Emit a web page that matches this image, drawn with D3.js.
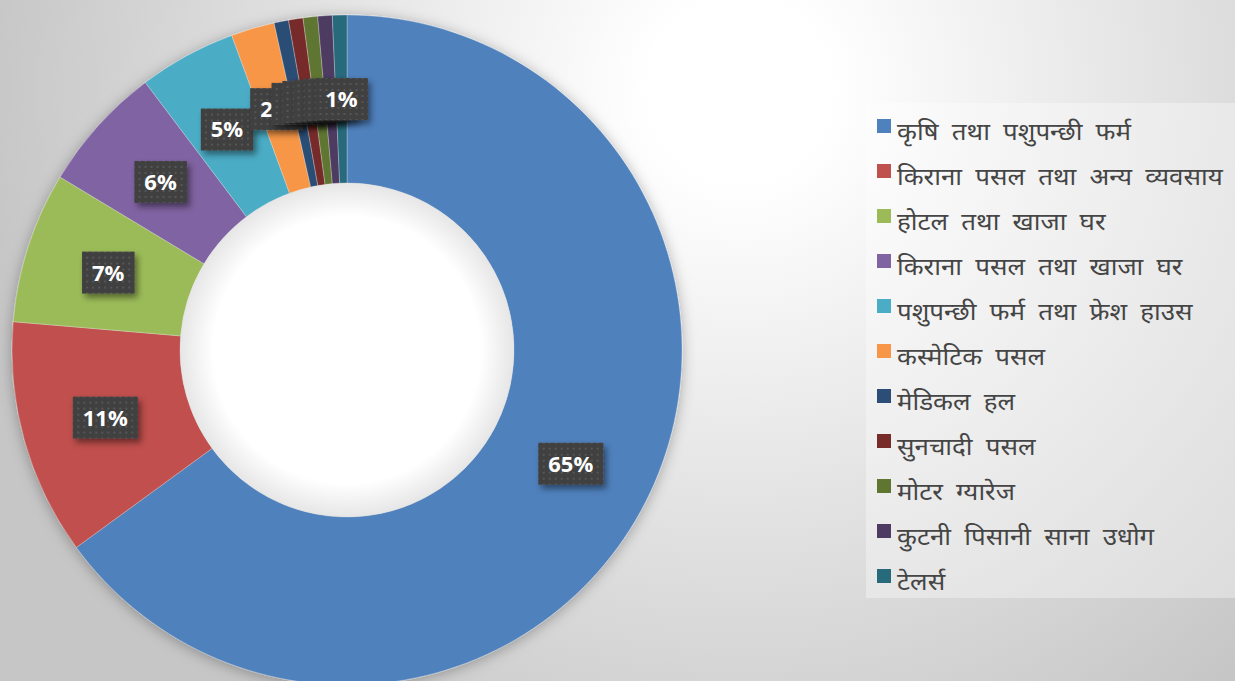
<!DOCTYPE html>
<html>
<head>
<meta charset="utf-8">
<script src="https://cdn.jsdelivr.net/npm/d3@7"></script>
<style>
  html, body { margin: 0; padding: 0; overflow: hidden; }
  body { width: 1235px; height: 681px; }
  .lbl { font-family: "Open Sans", "Noto Sans", sans-serif; font-weight: bold; font-size: 22px; fill: #fff; }
  .legendText { font-family: "Noto Sans Devanagari", "Lohit Devanagari", "Noto Sans", sans-serif; font-size: 24px; word-spacing: 6px; fill: #454545; }
</style>
</head>
<body>
<div id="chart"></div>
<script>
var categories = ["कृषि तथा पशुपन्छी फर्म", "किराना पसल तथा अन्य व्यवसाय", "होटल तथा खाजा घर",
  "किराना पसल तथा खाजा घर", "पशुपन्छी फर्म तथा फ्रेश हाउस", "कस्मेटिक पसल", "मेडिकल हल",
  "सुनचादी पसल", "मोटर ग्यारेज", "कुटनी पिसानी साना उधोग", "टेलर्स"];
var values = [65.1, 11.4, 7.3, 6.1, 4.7, 2.1, 0.7, 0.7, 0.7, 0.7, 0.7];
var labels = ["65%", "11%", "7%", "6%", "5%", "2%", "1%", "1%", "1%", "1%", "1%"];
var colors = ["#4F81BD", "#C0504D", "#9BBB59", "#8064A2", "#4BACC6", "#F79646",
  "#2C4D75", "#772C2A", "#5F7530", "#4D3B62", "#276A7C"];

var W = 1235, H = 681;
var cx = 347, cy = 350, outerR = 335, innerR = 167;

var svg = d3.select("#chart").append("svg")
  .attr("width", W)
  .attr("height", H);

var defs = svg.append("defs");

// page background
var bg = defs.append("radialGradient")
  .attr("id", "bgGrad")
  .attr("gradientUnits", "userSpaceOnUse")
  .attr("cx", 740).attr("cy", 90).attr("r", 760);
bg.append("stop").attr("offset", "0%").attr("stop-color", "#ffffff");
bg.append("stop").attr("offset", "12%").attr("stop-color", "#ffffff");
bg.append("stop").attr("offset", "100%").attr("stop-color", "#c6c6c6");

// hole fill
var hole = defs.append("radialGradient").attr("id", "holeGrad");
hole.append("stop").attr("offset", "0%").attr("stop-color", "#ffffff");
hole.append("stop").attr("offset", "80%").attr("stop-color", "#ffffff");
hole.append("stop").attr("offset", "100%").attr("stop-color", "#e6e6e6");

// dotted pattern for the label boxes
var pat = defs.append("pattern")
  .attr("id", "dots")
  .attr("patternUnits", "userSpaceOnUse")
  .attr("width", 6).attr("height", 6);
pat.append("rect").attr("width", 6).attr("height", 6).attr("fill", "#404040");
pat.append("rect").attr("x", 2).attr("y", 2).attr("width", 2).attr("height", 2).attr("fill", "#565656");

var ringShadow = defs.append("filter").attr("id", "ringShadow")
  .attr("x", "-10%").attr("y", "-10%").attr("width", "120%").attr("height", "120%");
ringShadow.append("feDropShadow")
  .attr("dx", 0).attr("dy", 2).attr("stdDeviation", 7)
  .attr("flood-color", "#000").attr("flood-opacity", 0.3);

var boxShadow = defs.append("filter").attr("id", "boxShadow")
  .attr("x", "-30%").attr("y", "-30%").attr("width", "160%").attr("height", "160%");
boxShadow.append("feDropShadow")
  .attr("dx", 3).attr("dy", 4).attr("stdDeviation", 3)
  .attr("flood-color", "#000").attr("flood-opacity", 0.45);

svg.append("rect")
  .attr("width", W).attr("height", H)
  .attr("fill", "url(#bgGrad)");

// donut
var pie = d3.pie().sort(null).value(function(d) { return d; });
var arcs = pie(values);
var arc = d3.arc().innerRadius(innerR).outerRadius(outerR);

var g = svg.append("g")
  .attr("transform", "translate(" + cx + "," + cy + ")");

g.append("g")
  .attr("filter", "url(#ringShadow)")
  .selectAll("path")
  .data(arcs)
  .enter()
  .append("path")
    .attr("d", arc)
    .attr("fill", function(d, i) { return colors[i]; })
    .attr("stroke", "rgba(255,255,255,0.45)")
    .attr("stroke-width", 0.6);

g.append("circle")
  .attr("r", innerR)
  .attr("fill", "url(#holeGrad)");

// data labels (they overlap at the top, as in the source)
var lblG = g.selectAll(".lblG")
  .data(arcs)
  .enter()
  .append("g")
    .attr("class", "lblG")
    .attr("transform", function(d) { return "translate(" + arc.centroid(d) + ")"; });

lblG.append("text")
  .attr("class", "lbl")
  .attr("text-anchor", "middle")
  .attr("dy", "0.36em")
  .text(function(d, i) { return labels[i]; })
  .each(function() {
    var bb = this.getBBox();
    var padX = 10;
    d3.select(this.parentNode).insert("rect", "text")
      .attr("x", bb.x - padX)
      .attr("y", -21)
      .attr("width", bb.width + 2 * padX)
      .attr("height", 42)
      .attr("fill", "url(#dots)")
      .attr("filter", "url(#boxShadow)");
  });

// legend
var legX = 866, legY = 103, legW = 369, legH = 495;
svg.append("rect")
  .attr("x", legX).attr("y", legY)
  .attr("width", legW).attr("height", legH)
  .attr("fill", "#ffffff")
  .attr("fill-opacity", 0.35);

var rowY = d3.scaleLinear().domain([0, 1]).range([119, 164]);

var leg = svg.selectAll(".legItem")
  .data(categories)
  .enter()
  .append("g")
    .attr("class", "legItem")
    .attr("transform", function(d, i) { return "translate(877," + rowY(i) + ")"; });

leg.append("rect")
  .attr("width", 14).attr("height", 14)
  .attr("fill", function(d, i) { return colors[i]; });

// source font is wider, so stretch the text a little
leg.append("text")
  .attr("class", "legendText")
  .attr("transform", "translate(20,21) scale(1.08,1)")
  .text(function(d) { return d; });
</script>
</body>
</html>
